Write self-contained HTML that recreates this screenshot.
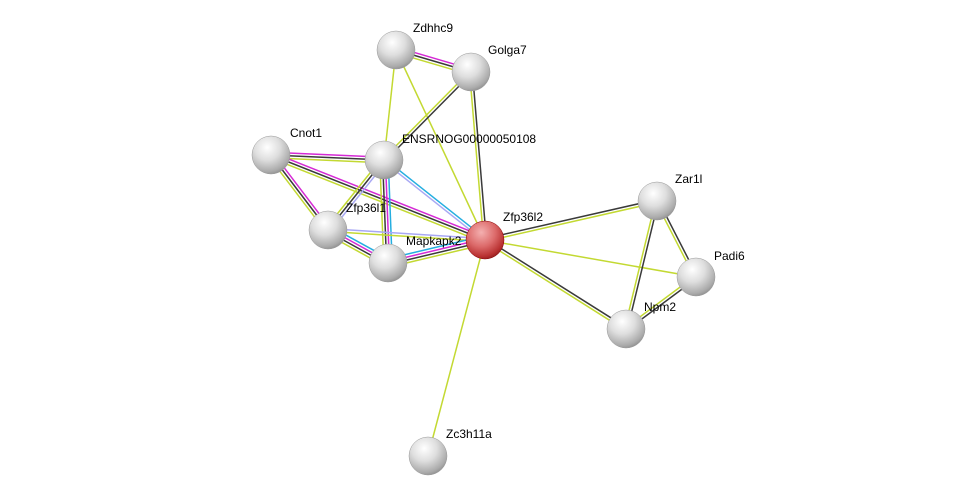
<!DOCTYPE html>
<html><head><meta charset="utf-8"><style>
html,body{margin:0;padding:0;background:#fff;}
svg{display:block;}
text{font-family:"Liberation Sans",sans-serif;font-size:12px;fill:#000;}
</style></head><body>
<svg id="s" width="975" height="501" viewBox="0 0 975 501" xmlns="http://www.w3.org/2000/svg">
<defs>
<radialGradient id="g" cx="0.4" cy="0.3" r="0.75">
<stop offset="0" stop-color="#ffffff"/><stop offset="0.45" stop-color="#dedede"/><stop offset="0.85" stop-color="#aaaaaa"/><stop offset="1" stop-color="#8a8a8a"/>
</radialGradient>
<radialGradient id="r" cx="0.4" cy="0.3" r="0.75">
<stop offset="0" stop-color="#f4b0b0"/><stop offset="0.5" stop-color="#dc6a6a"/><stop offset="0.85" stop-color="#b83030"/><stop offset="1" stop-color="#8a1a1a"/>
</radialGradient>
</defs>
<g id="edges"></g>
<g id="nodes">
<circle cx="396" cy="50" r="19" fill="url(#g)" stroke="#999" stroke-width="0.5"/>
<circle cx="471" cy="72" r="19" fill="url(#g)" stroke="#999" stroke-width="0.5"/>
<circle cx="271" cy="155" r="19" fill="url(#g)" stroke="#999" stroke-width="0.5"/>
<circle cx="384" cy="160" r="19" fill="url(#g)" stroke="#999" stroke-width="0.5"/>
<circle cx="328" cy="230" r="19" fill="url(#g)" stroke="#999" stroke-width="0.5"/>
<circle cx="388" cy="263" r="19" fill="url(#g)" stroke="#999" stroke-width="0.5"/>
<circle cx="485" cy="240" r="19" fill="url(#r)" stroke="#800" stroke-width="0.5"/>
<circle cx="657" cy="201" r="19" fill="url(#g)" stroke="#999" stroke-width="0.5"/>
<circle cx="696" cy="277" r="19" fill="url(#g)" stroke="#999" stroke-width="0.5"/>
<circle cx="626" cy="329" r="19" fill="url(#g)" stroke="#999" stroke-width="0.5"/>
<circle cx="428" cy="456" r="19" fill="url(#g)" stroke="#999" stroke-width="0.5"/>
</g>
<g>
<text x="413" y="32">Zdhhc9</text>
<text x="488" y="54">Golga7</text>
<text x="290" y="137">Cnot1</text>
<text x="402" y="143">ENSRNOG00000050108</text>
<text x="346" y="212">Zfp36l1</text>
<text x="406" y="245">Mapkapk2</text>
<text x="503" y="221">Zfp36l2</text>
<text x="675" y="183">Zar1l</text>
<text x="714" y="260">Padi6</text>
<text x="644" y="311">Npm2</text>
<text x="446" y="438">Zc3h11a</text>
</g>
</svg>
<script>
var N={zd:[396,50],go:[471,72],cn:[271,155],en:[384,160],l1:[328,230],ma:[388,263],l2:[485,240],za:[657,201],pa:[696,277],np:[626,329],zc:[428,456]};
var C={y:"#c3d932",k:"#3a3a3a",m:"#d52ad5",c:"#25aee0",v:"#a8a8f4"};
var E=[["zd","go","mky"],["zd","en","y"],["zd","l2","y"],["go","en","ky"],["go","l2","ky"],
["cn","en","mky"],["cn","l1","mky"],["cn","l2","mky"],["en","l1","vky"],["en","ma","cmky"],["en","l2","cv"],
["l1","ma","cmky"],["l1","l2","vy"],["ma","l2","cmky"],["l2","za","ky"],["l2","pa","y"],["l2","np","ky"],
["l2","zc","y"],["za","pa","ky"],["za","np","ky"],["pa","np","ky"]];
var g=document.getElementById("edges"),ns="http://www.w3.org/2000/svg";
E.forEach(function(e){var a=N[e[0]],b=N[e[1]],dx=b[0]-a[0],dy=b[1]-a[1],L=Math.hypot(dx,dy),px=-dy/L,py=dx/L,n=e[2].length,sp=2.8;
for(var i=0;i<n;i++){var o=(i-(n-1)/2)*sp,l=document.createElementNS(ns,"line");
l.setAttribute("x1",a[0]+px*o);l.setAttribute("y1",a[1]+py*o);l.setAttribute("x2",b[0]+px*o);l.setAttribute("y2",b[1]+py*o);
l.setAttribute("stroke",C[e[2][i]]);l.setAttribute("stroke-width","1.5");g.appendChild(l);}});
</script>
</body></html>
